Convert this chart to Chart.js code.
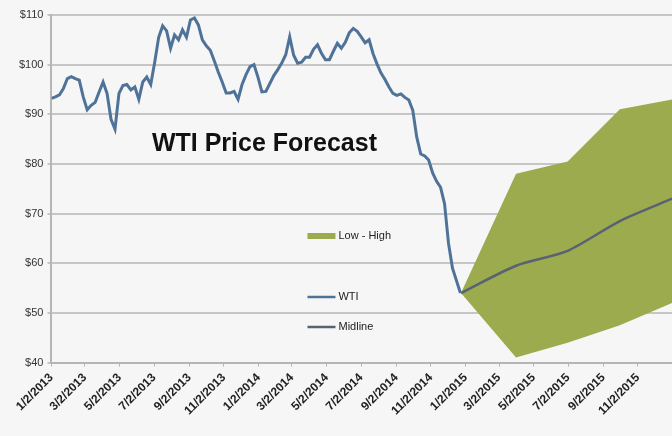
<!DOCTYPE html>
<html>
<head>
<meta charset="utf-8">
<script src="https://cdn.jsdelivr.net/npm/chart.js@4.4.1/dist/chart.umd.min.js"></script>
<style>
  html, body { margin: 0; padding: 0; background: #f6f6f6; }
  #wrap { width: 672px; height: 436px; }
</style>
</head>
<body>
<div id="wrap"><canvas id="chart" width="672" height="436"></canvas></div>
<script>
// WTI weekly closes, starting 1/2/2013
const wtiStart = '1/2/2013';
const wtiWeekly = [
  93.2, 93.5, 93.9, 95.2, 97.2, 97.6, 97.2, 96.9, 93.5, 90.9,
  91.8, 92.4, 94.5, 96.5, 94.2, 89.0, 87.0, 94.2, 95.8, 96.0,
  94.9, 95.5, 93.0, 96.5, 97.5, 96.0, 100.5, 105.5, 107.8, 106.8,
  103.3, 106.0, 105.0, 107.0, 105.5, 109.0, 109.4, 108.0, 105.0, 103.8,
  102.9, 100.8, 98.5, 96.5, 94.3, 94.3, 94.6, 93.0, 96.0, 98.0,
  99.6, 100.0, 97.5, 94.5, 94.6, 96.2, 97.8, 99.0, 100.3, 102.0,
  105.6, 101.9, 100.3, 100.5, 101.5, 101.5, 103.1, 104.0, 102.3, 101.0,
  101.0, 102.7, 104.3, 103.3, 104.5, 106.4, 107.3, 106.7, 105.6, 104.4,
  105.0, 102.2, 100.1, 98.3, 97.0, 95.5, 94.2, 93.8, 94.1, 93.4,
  92.9, 90.8, 85.4, 82.0, 81.6, 80.8, 78.2, 76.5, 75.3, 72.0,
  64.0, 59.0, 56.5, 54.0
];

// forecast band and midline
const forecastDates = ['12/25/2014', '4/1/2015', '7/1/2015', '10/1/2015', '1/1/2016'];
const forecastHigh = [54.0, 78.0, 80.5, 91.0, 93.0];
const forecastLow = [54.0, 41.0, 44.0, 47.5, 52.0];
const forecastMid = [54.0, 59.5, 62.5, 68.5, 73.0];

// axis ticks
const xTickLabels = [
  '1/2/2013', '3/2/2013', '5/2/2013', '7/2/2013', '9/2/2013', '11/2/2013',
  '1/2/2014', '3/2/2014', '5/2/2014', '7/2/2014', '9/2/2014', '11/2/2014',
  '1/2/2015', '3/2/2015', '5/2/2015', '7/2/2015', '9/2/2015', '11/2/2015'
];
const xAxisEnd = '1/1/2016';
const yMin = 40, yMax = 110, yStep = 10;

function parseUS(s) {
  const [m, d, y] = s.split('/').map(Number);
  return Date.UTC(y, m - 1, d);
}
const t0 = parseUS(wtiStart);
function dayOf(s) { return (parseUS(s) - t0) / 86400000; }

const wtiData = wtiWeekly.map((v, i) => ({ x: i * 7, y: v }));
const highData = forecastHigh.map((v, i) => ({ x: dayOf(forecastDates[i]), y: v }));
const lowData = forecastLow.map((v, i) => ({ x: dayOf(forecastDates[i]), y: v }));
const midData = forecastMid.map((v, i) => ({ x: dayOf(forecastDates[i]), y: v }));

const GREEN = '#9dab4f';
const WTI_COLOR = '#4f7298';
const MID_COLOR = '#596273';

// title and legend are drawn inside the plot area, like the original
const insidePlugin = {
  id: 'insideText',
  afterDatasetsDraw(chart) {
    const ctx = chart.ctx;
    const a = chart.chartArea;
    ctx.save();
    ctx.fillStyle = '#111';
    ctx.font = 'bold 25px "Liberation Sans", Arial, sans-serif';
    ctx.textAlign = 'center';
    ctx.textBaseline = 'middle';
    ctx.fillText('WTI Price Forecast', a.left + 213, a.top + 129);

    const lx = a.left + 256, tx = a.left + 287;
    ctx.font = '11px "Liberation Sans", Arial, sans-serif';
    ctx.textAlign = 'left';
    // Low - High
    ctx.fillStyle = GREEN;
    ctx.fillRect(lx, a.top + 218, 28, 6);
    ctx.fillStyle = '#222';
    ctx.fillText('Low - High', tx, a.top + 221);
    // WTI
    ctx.strokeStyle = WTI_COLOR;
    ctx.lineWidth = 2.5;
    ctx.beginPath(); ctx.moveTo(lx, a.top + 282); ctx.lineTo(lx + 28, a.top + 282); ctx.stroke();
    ctx.fillText('WTI', tx, a.top + 282);
    // Midline
    ctx.strokeStyle = MID_COLOR;
    ctx.beginPath(); ctx.moveTo(lx, a.top + 312); ctx.lineTo(lx + 28, a.top + 312); ctx.stroke();
    ctx.fillText('Midline', tx, a.top + 312);
    ctx.restore();
  }
};

new Chart(document.getElementById('chart'), {
  type: 'line',
  data: {
    datasets: [
      {
        label: 'WTI',
        data: wtiData,
        borderColor: WTI_COLOR,
        borderWidth: 3,
        pointRadius: 0,
        tension: 0,
        fill: false
      },
      {
        label: 'Midline',
        data: midData,
        borderColor: MID_COLOR,
        borderWidth: 2.5,
        pointRadius: 0,
        tension: 0.25,
        fill: false
      },
      {
        label: 'High',
        data: highData,
        borderWidth: 0,
        borderColor: GREEN,
        backgroundColor: GREEN,
        pointRadius: 0,
        tension: 0,
        fill: '+1'
      },
      {
        label: 'Low',
        data: lowData,
        borderWidth: 0,
        borderColor: GREEN,
        pointRadius: 0,
        tension: 0,
        fill: false
      }
    ]
  },
  options: {
    responsive: false,
    animation: false,
    layout: { padding: { top: 15, right: 0, bottom: 14, left: 15 } },
    plugins: {
      legend: { display: false },
      tooltip: { enabled: false }
    },
    scales: {
      x: {
        type: 'linear',
        min: 0,
        max: dayOf(xAxisEnd),
        afterBuildTicks: (axis) => {
          axis.ticks = xTickLabels.map(s => ({ value: dayOf(s) }));
        },
        ticks: {
          autoSkip: false,
          maxRotation: 45,
          minRotation: 45,
          padding: 4,
          color: '#222',
          font: { family: '"Liberation Sans", Arial, sans-serif', size: 12, weight: 'bold' },
          callback: (v, i) => xTickLabels[i]
        },
        grid: { drawOnChartArea: false, drawTicks: true, tickLength: 4, color: '#b5b5b5' },
        border: { color: '#b5b5b5', width: 2 }
      },
      y: {
        min: yMin,
        max: yMax,
        ticks: {
          stepSize: yStep,
          padding: 4,
          color: '#333',
          font: { family: '"Liberation Sans", Arial, sans-serif', size: 11 },
          callback: (v) => '$' + v
        },
        grid: { color: '#c6c6c6', lineWidth: 2, tickLength: 4 },
        border: { color: '#b5b5b5', width: 2 }
      }
    }
  },
  plugins: [insidePlugin]
});
</script>
</body>
</html>
